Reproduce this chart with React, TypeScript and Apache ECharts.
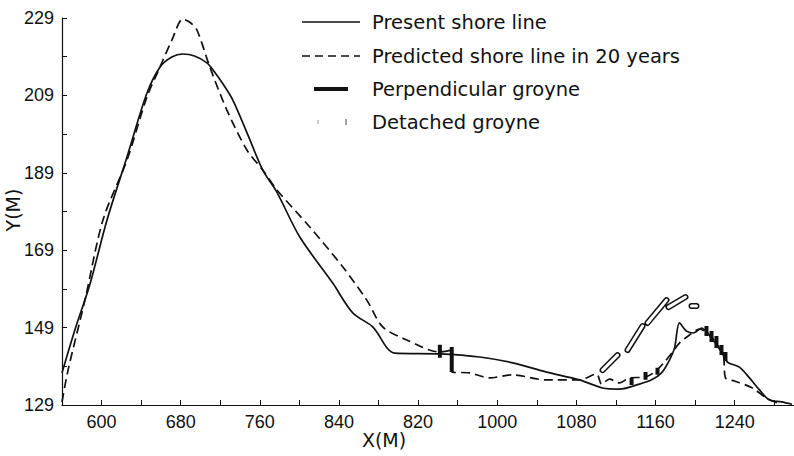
import React, { useEffect, useRef } from "react";
import * as echarts from "echarts";

// Present shore line (solid)
const presentX = [560, 573, 588, 605.5, 625.7, 645.9, 659, 671, 682, 694, 706.5, 712.5, 722.6, 732.7, 747.9, 763, 777.2, 800.4, 833.7, 853.9, 874.1, 896.4, 941.8, 982.2, 1015.6, 1049.9, 1083.2, 1106.5, 1123.6, 1143.8, 1156, 1166.1, 1174.1, 1179.2, 1184.2, 1191.3, 1198.4, 1206.5, 1216.6, 1226.7, 1232.7, 1244.8, 1255, 1265.1, 1275.2, 1287.3, 1298];
const presentY = [137.3, 148.4, 160, 176.8, 193.1, 209.6, 216.3, 218.9, 219.7, 219.2, 217.4, 215.6, 212, 207.8, 198.8, 189.7, 184, 172.4, 160.5, 152.8, 149.2, 142.4, 142.2, 141.4, 139.9, 137.5, 135.5, 133.4, 133.1, 134.4, 135.5, 137.3, 140.6, 143.7, 150.2, 148.1, 147.6, 148.9, 146.3, 142.7, 140.1, 138.8, 136, 132.9, 130.3, 129.8, 129.2];

// Predicted shore line in 20 years (dashed)
const predictedX = [560, 566.1, 583.2, 601.4, 625.7, 645.9, 659, 671.1, 682.2, 689.3, 696.4, 709.5, 726.7, 746.9, 763, 777.2, 810.5, 843.8, 868.1, 884.2, 908.5, 941.8, 954, 954, 972.1, 992.3, 1015, 1049, 1083, 1100.4, 1105.5, 1113.5, 1123.6, 1133.7, 1148.9, 1159, 1169.1, 1177.2, 1184.2, 1194.3, 1204.4, 1214.5, 1222.6, 1228.7, 1230.7, 1239.8, 1258, 1272.1, 1285.3];
const predictedY = [129.8, 138, 156.1, 176.8, 192.3, 208.6, 216.3, 223.3, 228.7, 227.9, 225.9, 216.3, 205.2, 194.9, 189.7, 184.6, 175, 164.7, 156.1, 149.2, 145.8, 142.7, 143.2, 137.5, 137.3, 136, 136.8, 135.5, 135.5, 137, 134.4, 135.7, 134.7, 136, 136.2, 137.5, 140.1, 142.7, 145, 147.1, 148.6, 147.1, 144.5, 141.7, 136, 135.2, 133.4, 130.8, 129.3];

// Perpendicular groynes: x, y start, y end
const perpGroyneX = [942, 954, 1135.8, 1149.9, 1162, 1211.5, 1216.6, 1221.6, 1226.7, 1230.7];
const perpGroyneY1 = [144.6, 144.0, 136.0, 137.5, 138.6, 149.4, 148.1, 146.8, 144.5, 142.7];
const perpGroyneY2 = [141.2, 137.5, 134.2, 135.5, 136.8, 146.8, 145.3, 143.7, 141.9, 140.4];

// Detached groynes: segment ends
const detX1 = [1106.5, 1131.7, 1151.9, 1173.1, 1196.4];
const detY1 = [138.0, 143.2, 150.2, 154.3, 154.6];
const detX2 = [1121.6, 1146.9, 1171.1, 1190.3, 1201.4];
const detY2 = [141.9, 149.4, 156.1, 156.9, 154.6];

// Axis ticks and labels
const xLabelValues = [600, 680, 760, 840, 920, 1000, 1080, 1160, 1240];
const xLabelTexts = ["600", "680", "760", "840", "820", "1000", "1080", "1160", "1240"];
const xTickValues = [600, 640, 680, 720, 760, 800, 840, 880, 920, 960, 1000, 1040, 1080, 1120, 1160, 1200, 1240, 1280];
const yLabelValues = [129, 149, 169, 189, 209, 229];
const yTickValues = [129, 139, 149, 159, 169, 179, 189, 199, 209, 219, 229];

const legendNames = ["Present shore line", "Predicted shore line in 20 years", "Perpendicular groyne", "Detached groyne"];

const FONT = "Liberation Sans";
const LEGEND_FONT = "DejaVu Sans";

export default function App() {
  const ref = useRef<HTMLDivElement>(null);
  useEffect(() => {
    if (!ref.current) return;
    const chart = echarts.init(ref.current, undefined, { renderer: "svg" });

    const present = presentX.map((x, i) => [x, presentY[i]]);
    const predicted = predictedX.map((x, i) => [x, predictedY[i]]);
    const perp: any[] = [];
    perpGroyneX.forEach((x, i) => {
      perp.push([x, perpGroyneY1[i]], [x, perpGroyneY2[i]], null);
    });
    const det: any[] = [];
    detX1.forEach((x, i) => {
      det.push([x, detY1[i]], [detX2[i], detY2[i]], null);
    });

    const legendRows = [22, 56, 89, 122];
    const textX = 372;
    const graphic: any[] = [
      { type: "line", shape: { x1: 302, y1: legendRows[0], x2: 360, y2: legendRows[0] }, style: { stroke: "#111", lineWidth: 1.6 } },
      { type: "line", shape: { x1: 302, y1: legendRows[1], x2: 360, y2: legendRows[1] }, style: { stroke: "#111", lineWidth: 1.6, lineDash: [8, 5] } },
      { type: "line", shape: { x1: 314, y1: legendRows[2], x2: 348, y2: legendRows[2] }, style: { stroke: "#111", lineWidth: 4 } },
      { type: "line", shape: { x1: 318, y1: legendRows[3] - 2, x2: 318, y2: legendRows[3] + 2 }, style: { stroke: "#999", lineWidth: 1 } },
      { type: "line", shape: { x1: 346, y1: legendRows[3] - 3, x2: 346, y2: legendRows[3] + 3 }, style: { stroke: "#666", lineWidth: 1.2 } },
      ...legendNames.map((n, i) => ({
        type: "text",
        x: textX,
        y: legendRows[i],
        style: { text: n, fill: "#111", font: `19.5px '${LEGEND_FONT}'`, verticalAlign: "middle" },
      })),
      {
        type: "text",
        x: 384,
        y: 440,
        style: { text: "X(M)", fill: "#111", font: `19px '${LEGEND_FONT}'`, align: "center", verticalAlign: "middle" },
      },
      {
        type: "text",
        x: 13,
        y: 210,
        rotation: Math.PI / 2,
        style: { text: "Y(M)", fill: "#111", font: `19px '${LEGEND_FONT}'`, align: "center", verticalAlign: "middle" },
      },
    ];

    chart.setOption({
      animation: false,
      backgroundColor: "#fff",
      grid: { left: 62, right: 0, top: 18, bottom: 51, containLabel: false, outerBoundsMode: "none" },
      xAxis: {
        type: "value",
        min: 560,
        max: 1300,
        axisLine: { show: true, lineStyle: { color: "#111", width: 1.2 } },
        axisTick: { show: true, inside: true, length: 5, customValues: xTickValues, lineStyle: { color: "#111" } },
        axisLabel: {
          customValues: xLabelValues,
          formatter: (v: number) => {
            const idx = xLabelValues.indexOf(v);
            return idx >= 0 ? xLabelTexts[idx] : "";
          },
          color: "#111",
          fontSize: 18,
          fontFamily: FONT,
          margin: 8,
        },
        splitLine: { show: false },
      },
      yAxis: {
        type: "value",
        min: 129,
        max: 229,
        axisLine: { show: true, lineStyle: { color: "#111", width: 1.2 } },
        axisTick: { show: true, inside: true, length: 5, customValues: yTickValues, lineStyle: { color: "#111" } },
        axisLabel: { customValues: yLabelValues, color: "#111", fontSize: 18, fontFamily: FONT, margin: 8 },
        splitLine: { show: false },
      },
      graphic,
      series: [
        {
          name: legendNames[0],
          type: "line",
          data: present,
          smooth: 0.3,
          symbol: "none",
          clip: true,
          lineStyle: { color: "#111", width: 1.7 },
        },
        {
          name: legendNames[1],
          type: "line",
          data: predicted,
          smooth: 0.3,
          symbol: "none",
          clip: true,
          lineStyle: { color: "#111", width: 1.7, type: [9, 5] },
        },
        {
          name: legendNames[2],
          type: "line",
          data: perp,
          connectNulls: false,
          symbol: "none",
          lineStyle: { color: "#111", width: 4 },
        },
        {
          name: legendNames[3],
          type: "line",
          data: det,
          connectNulls: false,
          symbol: "none",
          lineStyle: { color: "#111", width: 6, cap: "round" },
        },
        {
          name: legendNames[3] + " inner",
          type: "line",
          data: det,
          connectNulls: false,
          symbol: "none",
          lineStyle: { color: "#fff", width: 3, cap: "round" },
        },
      ],
    });
    return () => chart.dispose();
  }, []);
  return <div ref={ref} style={{ position: "fixed", left: 0, top: 0, width: 794, height: 456 }} />;
}
